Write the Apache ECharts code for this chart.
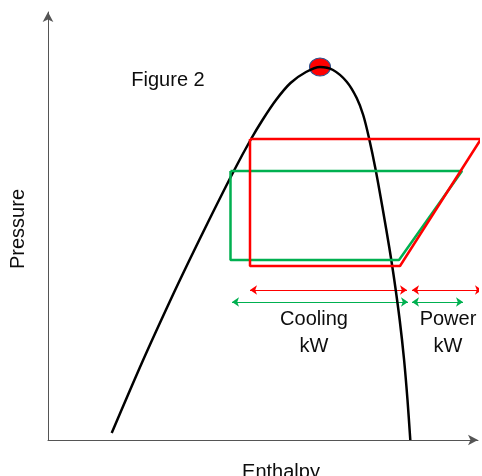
<!DOCTYPE html>
<html>
<head>
<meta charset="utf-8">
<script src="https://cdn.jsdelivr.net/npm/echarts@6/dist/echarts.min.js"></script>
<style>html,body{margin:0;padding:0;background:#fff}#c{width:482px;height:476px}</style>
</head>
<body>
<div id="c"></div>
<script>
// Saturation dome (enthalpy, pressure) in arbitrary units
const domeX = [63.7, 94.7, 122.5, 141.5, 161.1, 185.8, 202.5, 214.5, 228, 242.5, 258, 272, 285, 298.7, 308.7, 315.2, 321, 327.7, 334.9, 341.2, 346.3, 351.7, 356.1, 359.5, 362.3];
const domeY = [7, 79, 140, 180, 220, 269, 300, 320, 340, 357, 368, 373, 370, 358.3, 342, 325, 302, 270, 230, 193, 160, 120, 80, 40, 0];
const criticalPoint = [272, 373];
// Red cycle
const redX = [202, 433, 352, 202, 202];
const redY = [301, 301, 174, 174, 301];
// Green cycle
const greenX = [182.5, 414, 351, 182.5, 182.5];
const greenY = [269, 269, 180, 180, 269];
// Dimension arrows [xStart, xEnd, y]
const redCooling = [202, 359, 150];
const redPower = [364, 434, 150];
const greenCooling = [184, 360, 138];
const greenPower = [364, 415, 138];
// Text labels
const labels = [
  { text: 'Figure 2', pos: [120, 360] },
  { text: 'Cooling\nkW', pos: [266, 107] },
  { text: 'Power\nkW', pos: [400, 107] }
];

const zip = (xs, ys) => xs.map((x, i) => [x, ys[i]]);
const arrow = a => ({ coords: [[a[0], a[2]], [a[1], a[2]]] });
const RED = '#ff0000', GREEN = '#00b050';
const FONT = "'Liberation Sans', Arial, sans-serif";
const TXT = '#0d0d0d';

const chart = echarts.init(document.getElementById('c'), null, { renderer: 'canvas' });
chart.setOption({
  animation: false,
  backgroundColor: '#fff',
  grid: { left: 48, right: 4, top: 12, bottom: 36, containLabel: false, outerBoundsMode: 'none' },
  xAxis: {
    type: 'value', min: 0, max: 430,
    name: 'Enthalpy', nameLocation: 'middle', nameGap: 22,
    nameTextStyle: { fontSize: 20, color: TXT, fontFamily: FONT, padding: [0, 0, 0, 36] },
    axisLine: { show: true, symbol: ['none', 'arrow'], symbolSize: [8, 10], lineStyle: { color: '#555', width: 1 } },
    axisTick: { show: false }, axisLabel: { show: false }, splitLine: { show: false }
  },
  yAxis: {
    type: 'value', min: 0, max: 428,
    name: 'Pressure', nameLocation: 'middle', nameGap: 20,
    nameTextStyle: { fontSize: 20, color: TXT, fontFamily: FONT, padding: [0, 6, 0, 0] },
    axisLine: { show: true, symbol: ['none', 'arrow'], symbolSize: [8, 10], lineStyle: { color: '#555', width: 1 } },
    axisTick: { show: false }, axisLabel: { show: false }, splitLine: { show: false }
  },
  series: [
    { type: 'line', data: zip(domeX, domeY), smooth: 0.3, showSymbol: false, clip: false,
      lineStyle: { color: '#000', width: 2.5 } },
    { type: 'line', data: zip(greenX, greenY), showSymbol: false, clip: false,
      lineStyle: { color: GREEN, width: 2.5 } },
    { type: 'line', data: zip(redX, redY), showSymbol: false, clip: false,
      lineStyle: { color: RED, width: 2.5 } },
    { type: 'scatter', data: [criticalPoint], symbol: 'circle', symbolSize: [21, 18], clip: false,
      itemStyle: { color: RED, borderColor: '#2f528f', borderWidth: 1, opacity: 1 } },
    { type: 'lines', coordinateSystem: 'cartesian2d', symbol: ['arrow', 'arrow'], symbolSize: 7,
      lineStyle: { color: RED, width: 1, opacity: 1 }, data: [arrow(redCooling), arrow(redPower)] },
    { type: 'lines', coordinateSystem: 'cartesian2d', symbol: ['arrow', 'arrow'], symbolSize: 7,
      lineStyle: { color: GREEN, width: 1, opacity: 1 }, data: [arrow(greenCooling), arrow(greenPower)] },
    { type: 'scatter', symbolSize: 0, clip: false, itemStyle: { opacity: 1 },
      data: labels.map(l => ({ value: l.pos, name: l.text })),
      label: { show: true, position: 'inside', formatter: p => p.name, opacity: 1,
        fontSize: 20, lineHeight: 27, color: TXT, fontFamily: FONT, align: 'center', verticalAlign: 'middle' } }
  ]
});
</script>
</body>
</html>
